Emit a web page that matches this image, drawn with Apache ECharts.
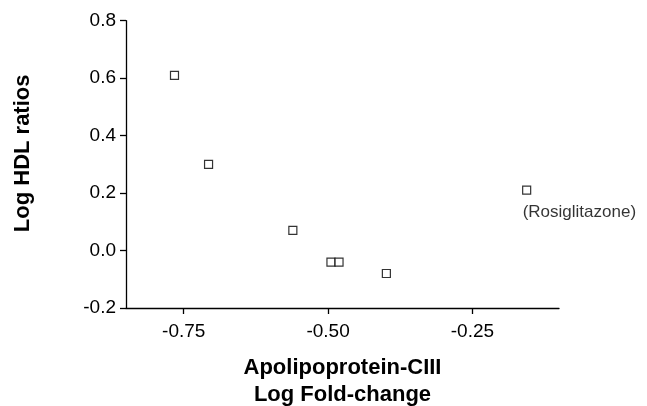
<!DOCTYPE html>
<html><head><meta charset="utf-8">
<script src="https://cdn.jsdelivr.net/npm/echarts@6/dist/echarts.min.js"></script>
<style>html,body{margin:0;padding:0;background:#fff}#c{width:647px;height:406px}</style>
</head><body><div id="c"></div>
<script>
const xValues = [-0.766, -0.707, -0.561, -0.495, -0.481, -0.399, -0.156];
const yValues = [0.61, 0.30, 0.07, -0.04, -0.04, -0.08, 0.21];
const pointLabels = ['', '', '', '', '', '', '(Rosiglitazone)'];
const xTicks = [-0.75, -0.5, -0.25];
const yTicks = [-0.2, 0.0, 0.2, 0.4, 0.6, 0.8];

const font = 'Liberation Sans, Arial, sans-serif';
const data = xValues.map((x, i) => {
  const item = { value: [x, yValues[i]] };
  if (pointLabels[i]) {
    item.label = { show: true, formatter: pointLabels[i], position: 'bottom', align: 'left',
      offset: [-4, 4], color: '#000', fontSize: 17, fontFamily: font };
  }
  return item;
});

const chart = echarts.init(document.getElementById('c'), null, { renderer: 'canvas' });
chart.setOption({
  animation: false,
  backgroundColor: '#fff',
  grid: { left: 126, top: 20.7, right: 88, bottom: 98, containLabel: false, outerBoundsMode: 'none' },
  xAxis: {
    type: 'value', min: -0.85, max: -0.10,
    axisLine: { onZero: false, lineStyle: { color: '#000', width: 1.3 } },
    axisTick: { show: true, length: 6, lineStyle: { color: '#000', width: 1.3 }, customValues: xTicks },
    axisLabel: { color: '#000', fontSize: 19, fontFamily: font, margin: 14,
      customValues: xTicks, formatter: v => v.toFixed(2) },
    splitLine: { show: false },
    name: 'Apolipoprotein-CIII\nLog Fold-change',
    nameLocation: 'middle', nameGap: 46,
    nameTextStyle: { color: '#000', fontSize: 22, fontWeight: 'bold', fontFamily: font, lineHeight: 27 }
  },
  yAxis: {
    type: 'value', min: -0.2, max: 0.8, interval: 0.2,
    axisLine: { onZero: false, lineStyle: { color: '#000', width: 1.3 } },
    axisTick: { show: true, length: 6, lineStyle: { color: '#000', width: 1.3 } },
    axisLabel: { color: '#000', fontSize: 19, fontFamily: font, margin: 10,
      formatter: v => v.toFixed(1) },
    splitLine: { show: false },
    name: 'Log HDL ratios',
    nameLocation: 'middle', nameGap: 92,
    nameTextStyle: { color: '#000', fontSize: 22, fontWeight: 'bold', fontFamily: font, padding: [0, 0, 0, 22] }
  },
  series: [{
    type: 'scatter',
    symbol: 'rect', symbolSize: 8,
    itemStyle: { color: '#fff', borderColor: '#000', borderWidth: 1.2 },
    data: data
  }]
});
</script></body></html>
